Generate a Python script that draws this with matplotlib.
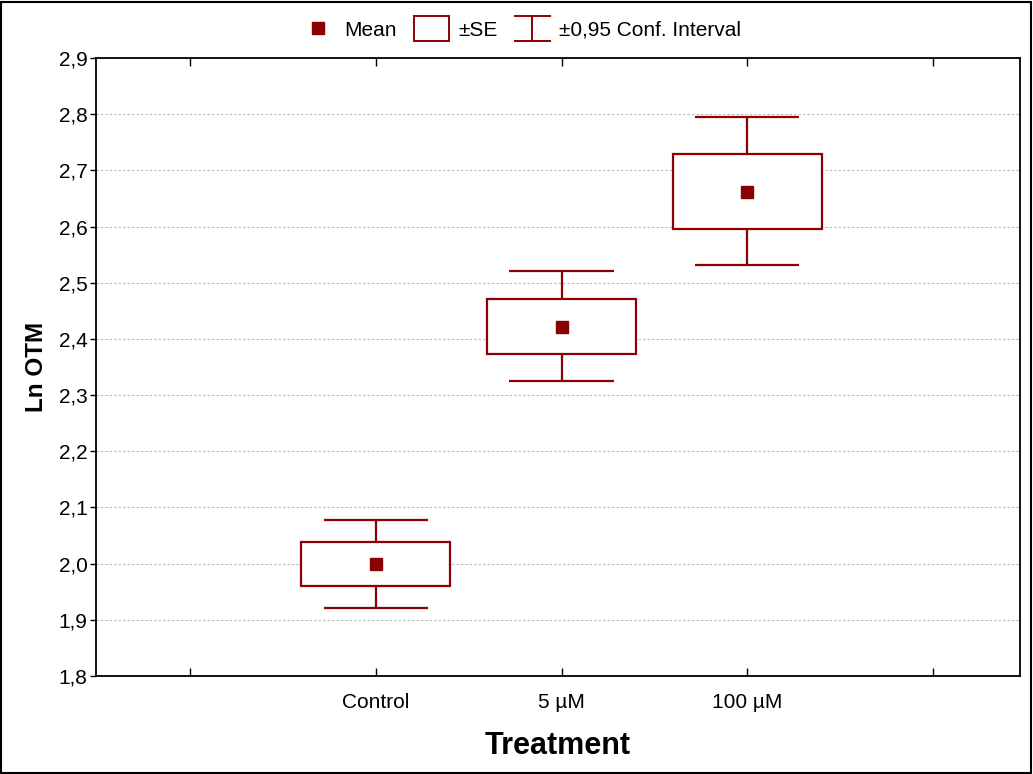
import matplotlib.pyplot as plt
from matplotlib.patches import Rectangle
from matplotlib.lines import Line2D
from matplotlib.legend_handler import HandlerBase
from matplotlib.ticker import FuncFormatter

plt.rcParams['font.family'] = ['Liberation Sans', 'DejaVu Sans']

# values
groups = ['Control', '5 µM', '100 µM']
means = [2.000, 2.421, 2.661]
se_lo = [1.960, 2.373, 2.596]
se_hi = [2.039, 2.471, 2.729]
ci_lo = [1.921, 2.325, 2.531]
ci_hi = [2.078, 2.521, 2.795]

red = '#8B0000'
pos = [1, 2, 3]

fig = plt.figure(figsize=(10.33, 7.74), dpi=100)
ax = fig.add_axes([0.0929, 0.1266, 0.8945, 0.7984])

# confidence interval whiskers and caps
ax.vlines(pos, ci_lo, ci_hi, color=red, lw=1.6, zorder=2)
ax.hlines(ci_lo, [p - 0.28 for p in pos], [p + 0.28 for p in pos], color=red, lw=1.6, zorder=2)
ax.hlines(ci_hi, [p - 0.28 for p in pos], [p + 0.28 for p in pos], color=red, lw=1.6, zorder=2)

# SE boxes
ax.bar(pos, [h - l for h, l in zip(se_hi, se_lo)], bottom=se_lo, width=0.8,
       facecolor='white', edgecolor=red, lw=1.6, zorder=3)

# means
ax.plot(pos, means, 's', color=red, ms=8.5, zorder=4, ls='none')

ax.set_xlim(-0.506, 4.468)
ax.set_ylim(1.8, 2.9)
ax.set_xticks([0, 1, 2, 3, 4])
ax.set_xticklabels([''] + groups + [''], fontsize=15)
ax.set_yticks([1.8 + 0.1 * i for i in range(12)])
ax.yaxis.set_major_formatter(FuncFormatter(lambda v, p: f'{v:.1f}'.replace('.', ',')))
ax.tick_params(axis='y', direction='out', length=4, labelsize=15, width=1, pad=2)
ax.tick_params(axis='x', direction='in', length=6, top=True, width=1, pad=12)
ax.grid(axis='y', color='#b8b8b8', ls=(0, (2, 2)), lw=0.8)
ax.set_axisbelow(True)
for s in ax.spines.values():
    s.set_linewidth(1.3)

ax.set_ylabel('Ln OTM', fontsize=17.5, fontweight='bold', labelpad=8)
ax.set_xlabel('Treatment', fontsize=22, fontweight='bold', labelpad=14)


class HandlerCI(HandlerBase):
    def create_artists(self, legend, orig_handle, xdescent, ydescent, width, height, fontsize, trans):
        x0, x1 = -xdescent, -xdescent + width
        xm = (x0 + x1) / 2
        y0, y1 = -ydescent - 4, -ydescent + height + 4
        arts = [Line2D([xm, xm], [y0, y1]), Line2D([x0, x1], [y0, y0]), Line2D([x0, x1], [y1, y1])]
        for a in arts:
            a.set_color(red)
            a.set_linewidth(1.4)
            a.set_transform(trans)
        return arts


class HandlerBox(HandlerBase):
    def create_artists(self, legend, orig_handle, xdescent, ydescent, width, height, fontsize, trans):
        r = Rectangle((-xdescent, -ydescent - 4), width, height + 8, facecolor='white',
                      edgecolor=red, lw=1.4, transform=trans)
        return [r]


h_mean = Line2D([], [], marker='s', color=red, ls='none', ms=8.5)
h_se = Rectangle((0, 0), 1, 1)
h_ci = Line2D([], [])
fig.legend([h_mean, h_se, h_ci], ['Mean', '±SE', '±0,95 Conf. Interval'],
           handler_map={h_se: HandlerBox(), h_ci: HandlerCI()},
           loc='center', bbox_to_anchor=(0.504, 0.961), ncol=3, frameon=False,
           fontsize=15, handlelength=1.7, handletextpad=0.45, columnspacing=0.8)

fig.patches.append(Rectangle((0.001, 0.001), 0.997, 0.997, transform=fig.transFigure,
                             fill=False, edgecolor='black', lw=1.5))

fig.savefig('out.png', dpi=100)
